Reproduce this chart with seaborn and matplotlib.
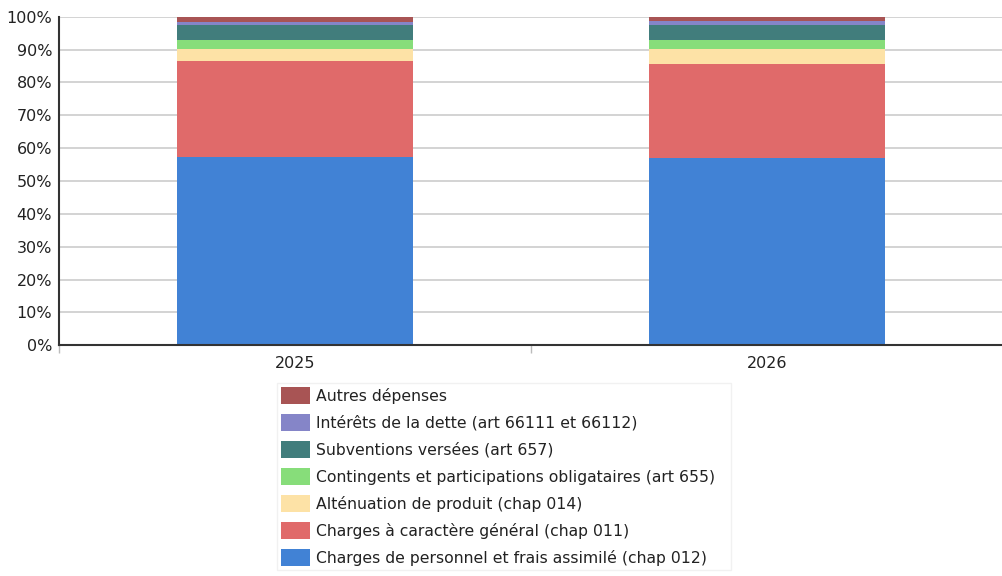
import matplotlib
matplotlib.use("Agg")
import matplotlib.pyplot as plt
from matplotlib.patches import Patch
from matplotlib.ticker import PercentFormatter, FixedLocator
import numpy as np
import pandas as pd
import seaborn as sns

years = ["2025", "2026"]

series_names = [
    "Charges de personnel et frais assimilé (chap 012)",
    "Charges à caractère général (chap 011)",
    "Alténuation de produit (chap 014)",
    "Contingents et participations obligataires (art 655)",
    "Subventions versées (art 657)",
    "Intérêts de la dette (art 66111 et 66112)",
    "Autres dépenses",
]

# Share of total expenses (%) per year
personnel = [57.4, 57.1]
charges_generales = [29.2, 28.4]
attenuation = [3.7, 4.8]
contingents = [2.7, 2.7]
subventions = [4.5, 4.5]
interets = [1.0, 1.3]
autres = [1.5, 1.2]

series_values = [personnel, charges_generales, attenuation, contingents,
                 subventions, interets, autres]

colors = ["#4182d5", "#e06a6a", "#fde2a6", "#87dd7a", "#417d7c",
          "#8585c8", "#a85454"]

sns.set_theme(style="white")
plt.rcParams["font.family"] = ["DejaVu Sans"]

W, H = 1003, 576
fig = plt.figure(figsize=(W / 100, H / 100), dpi=100)
ax = fig.add_axes([0.0588, 0.4005, 0.9412, 0.5705])

# Stacked bars: draw cumulative totals from the top layer down
data = np.array(series_values, dtype=float)
cum = np.cumsum(data, axis=0)
for i in range(len(series_names) - 1, -1, -1):
    df = pd.DataFrame({"year": years, "value": cum[i]})
    sns.barplot(data=df, x="year", y="value", color=colors[i], ax=ax,
                width=0.5, saturation=1, linewidth=0, zorder=2)

ax.set_xlim(-0.5, 1.5)
ax.set_ylim(0, 100)
ax.set_yticks(np.arange(0, 101, 10))
ax.yaxis.set_major_formatter(PercentFormatter(decimals=0))
ax.grid(axis="y", color="#cccccc", linewidth=1.2, zorder=0)
ax.set_axisbelow(True)
ax.set_xlabel("")
ax.set_ylabel("")

for side in ["top", "right"]:
    ax.spines[side].set_visible(False)
ax.spines["left"].set_color("#333333")
ax.spines["left"].set_linewidth(1.5)
ax.spines["bottom"].set_color("#333333")
ax.spines["bottom"].set_linewidth(1.5)

ax.tick_params(axis="both", which="major", length=0, labelsize=11.5,
               labelcolor="#222222")
ax.tick_params(axis="y", pad=5)
ax.tick_params(axis="x", pad=8)
ax.xaxis.set_minor_locator(FixedLocator([-0.5, 0.5, 1.5]))
ax.tick_params(axis="x", which="minor", length=6, width=1, color="#bbbbbb",
               direction="out", bottom=True)

handles = [Patch(facecolor=colors[i], edgecolor="none", label=series_names[i])
           for i in range(len(series_names) - 1, -1, -1)]
leg = fig.legend(handles=handles, loc="upper left", mode="expand",
                 bbox_to_anchor=(277 / W, 1 - 383 / H - 0.01, 454 / W, 0.01),
                 fontsize=11.25,
                 frameon=True, fancybox=False, edgecolor="#eeeeee",
                 handlelength=1.8, handleheight=1.25, labelspacing=0.67,
                 handletextpad=0.4, borderpad=0.28, borderaxespad=0)
leg.get_frame().set_linewidth(1)
for t in leg.get_texts():
    t.set_color("#222222")

fig.savefig("out.png", dpi=100)
